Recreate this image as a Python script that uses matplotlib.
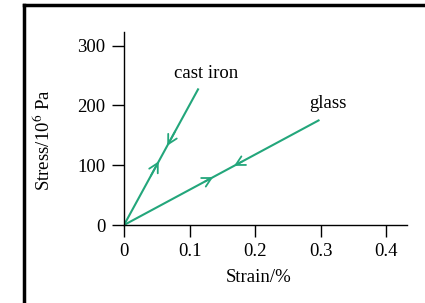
import matplotlib as mpl
import matplotlib.pyplot as plt
mpl.use('agg')

# stress-strain lines (strain in %, stress in 10^6 Pa)
iron_strain = [0, 0.113]
iron_stress = [0, 227]
glass_strain = [0, 0.297]
glass_stress = [0, 175]

# chevron positions along each line (strain at arrow tip, direction +1 loading / -1 unloading)
iron_arrows = [(0.053, 1), (0.066, -1)]
glass_arrows = [(0.136, 1), (0.168, -1)]

xticks = [0, 0.1, 0.2, 0.3, 0.4]
xticklabels = ['0', '0.1', '0.2', '0.3', '0.4']
yticks = [0, 100, 200, 300]

green = '#23a67b'
plt.rcParams['font.family'] = ['Liberation Serif', 'DejaVu Serif']
plt.rcParams['font.size'] = 13.5
plt.rcParams['mathtext.fontset'] = 'stix'

fig = plt.figure(figsize=(4.25, 3.03), dpi=100)
ax = fig.add_axes([0.2918, 0.2574, 0.6658, 0.637])
ax.set_xlim(0, 0.432)
ax.set_ylim(0, 323)

ax.plot(iron_strain, iron_stress, color=green, lw=1.5)
ax.plot(glass_strain, glass_stress, color=green, lw=1.5)

def chevrons(xs, ys, arrows):
    slope = ys[1] / xs[1]
    for x, d in arrows:
        dx = 0.012 * d
        ax.annotate('', xy=(x, x * slope), xytext=(x - dx, (x - dx) * slope),
                    arrowprops=dict(arrowstyle='->,head_length=0.65,head_width=0.35',
                                    color=green, lw=1.3, shrinkA=0, shrinkB=0,
                                    mutation_scale=10))

chevrons(iron_strain, iron_stress, iron_arrows)
chevrons(glass_strain, glass_stress, glass_arrows)

ax.text(0.1255, 254, 'cast iron', ha='center', va='center')
ax.text(0.312, 204, 'glass', ha='center', va='center')

for s in ['top', 'right']:
    ax.spines[s].set_visible(False)
ax.set_xticks(xticks)
ax.set_xticklabels(xticklabels)
ax.set_yticks(yticks)
ax.tick_params(length=8.5, width=1)
ax.tick_params(axis='x', pad=4.5)
ax.tick_params(axis='y', pad=5)
ax.set_xlabel('Strain/%', va='center')
ax.xaxis.set_label_coords(0.474, -0.272)
ax.set_ylabel('Stress/10$^6$ Pa', va='center')
ax.yaxis.set_label_coords(-0.285, 0.44)
ax.spines['left'].set_linewidth(1)
ax.spines['bottom'].set_linewidth(1)

# frame of the cropped picture: left and top edges
fig.add_artist(plt.Line2D([0.0565, 0.0565], [0, 0.9835], transform=fig.transFigure, color='black', lw=2.5))
fig.add_artist(plt.Line2D([0.0565, 1], [0.9835, 0.9835], transform=fig.transFigure, color='black', lw=2.5))

fig.savefig('out.png', dpi=100)
